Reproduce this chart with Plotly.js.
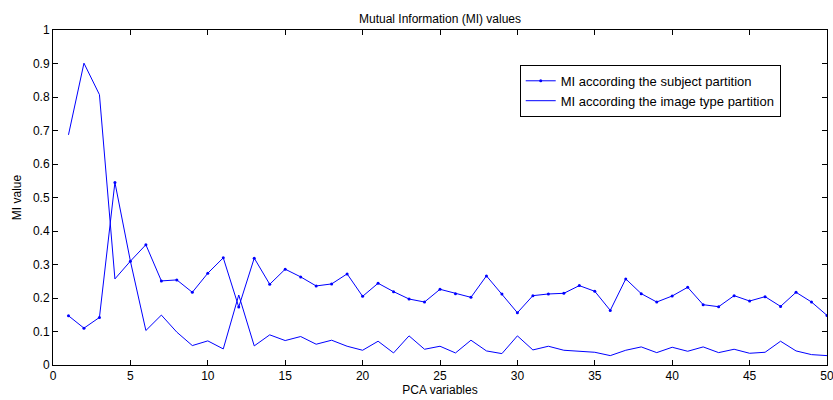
<!DOCTYPE html>
<html>
<head>
<meta charset="utf-8">
<script src="https://cdn.plot.ly/plotly-3.0.1.min.js"></script>
<style>html,body{margin:0;padding:0;background:#fff;}#chart{width:833px;height:400px;}</style>
</head>
<body>
<div id="chart"></div>
<script>
const pcaVariables = [1,2,3,4,5,6,7,8,9,10,11,12,13,14,15,16,17,18,19,20,21,22,23,24,25,26,27,28,29,30,31,32,33,34,35,36,37,38,39,40,41,42,43,44,45,46,47,48,49,50];
const subjectMI = [0.147,0.110,0.142,0.545,0.310,0.359,0.251,0.254,0.217,0.274,0.320,0.173,0.319,0.241,0.286,0.263,0.236,0.242,0.272,0.205,0.244,0.219,0.197,0.188,0.226,0.213,0.202,0.266,0.212,0.156,0.207,0.212,0.214,0.237,0.220,0.163,0.257,0.213,0.188,0.206,0.232,0.180,0.174,0.207,0.191,0.204,0.175,0.217,0.188,0.148];
const imageTypeMI = [0.687,0.901,0.807,0.257,0.310,0.103,0.149,0.098,0.058,0.072,0.048,0.209,0.057,0.090,0.073,0.085,0.062,0.074,0.056,0.044,0.071,0.036,0.087,0.047,0.056,0.036,0.074,0.042,0.034,0.087,0.045,0.056,0.044,0.041,0.038,0.028,0.044,0.054,0.037,0.053,0.041,0.054,0.037,0.047,0.035,0.038,0.071,0.042,0.031,0.028];
const xTicks = [0,5,10,15,20,25,30,35,40,45,50];
const yTicks = [0,0.1,0.2,0.3,0.4,0.5,0.6,0.7,0.8,0.9,1];
const yTickLabels = ['0','0.1','0.2','0.3','0.4','0.5','0.6','0.7','0.8','0.9','1'];

const font = {family: 'Liberation Sans, Arial, sans-serif', size: 12, color: '#000'};
const legendFont = {family: 'Liberation Sans, Arial, sans-serif', size: 13, color: '#000'};

const traces = [
  {x: pcaVariables, y: subjectMI, type: 'scatter', mode: 'lines+markers',
   name: 'MI according the subject partition',
   line: {color: '#0000ff', width: 1}, marker: {color: '#0000ff', size: 3}},
  {x: pcaVariables, y: imageTypeMI, type: 'scatter', mode: 'lines',
   name: 'MI according the image type partition',
   line: {color: '#0000ff', width: 1}}
];

const axisCommon = {
  showgrid: false, zeroline: false, showline: true, linecolor: '#000', linewidth: 1,
  mirror: 'ticks', ticks: 'inside', ticklen: 5, tickcolor: '#000', tickwidth: 1,
  tickfont: font, ticklabeloverflow: 'allow'
};

const layout = {
  width: 833, height: 400,
  margin: {l: 53, r: 6, t: 30, b: 35},
  paper_bgcolor: '#fff', plot_bgcolor: '#fff',
  font: font,
  title: {text: 'Mutual Information (MI) values', font: font, x: 0.5, xref: 'paper', xanchor: 'center', y: 1, yref: 'paper', yanchor: 'bottom', pad: {b: 7}},
  xaxis: Object.assign({}, axisCommon, {
    range: [0, 50], tickvals: xTicks, ticktext: xTicks.map(String),
    title: {text: 'PCA variables', font: font, standoff: 1}
  }),
  yaxis: Object.assign({}, axisCommon, {
    range: [0, 1], tickvals: yTicks, ticktext: yTickLabels,
    title: {text: 'MI value', font: font, standoff: 8}
  }),
  showlegend: true,
  legend: {x: 0.603, y: 0.896, xanchor: 'left', yanchor: 'top',
    bgcolor: '#fff', bordercolor: '#000', borderwidth: 1, font: legendFont,
    tracegroupgap: 0, itemwidth: 30}
};

Plotly.newPlot('chart', traces, layout, {displayModeBar: false, staticPlot: true});
</script>
</body>
</html>
